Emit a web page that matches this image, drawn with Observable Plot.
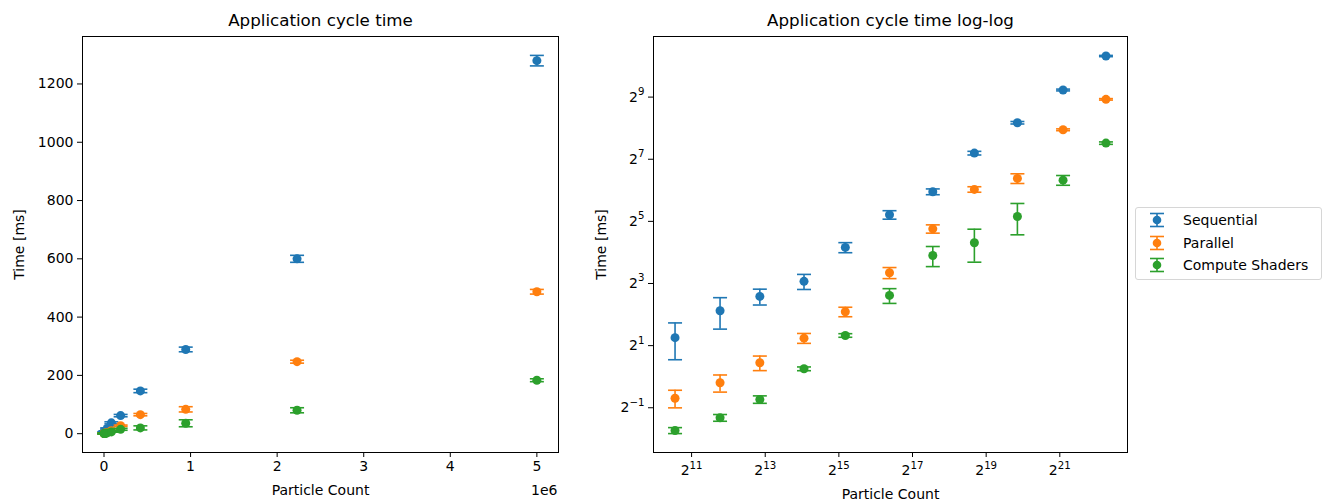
<!DOCTYPE html>
<html><head><meta charset="utf-8">
<script src="https://cdn.jsdelivr.net/npm/d3@7"></script>
<script src="https://cdn.jsdelivr.net/npm/@observablehq/plot@0.6"></script>
<style>
body{margin:0;background:#fff;font-family:"DejaVu Sans",sans-serif;}
#wrap{position:relative;width:1331px;height:502px;overflow:hidden;background:#fff}
.chart{position:absolute;top:0}
#legend{position:absolute;left:1135px;top:207px;width:187px;height:73px;border:1px solid #d6d6d6;border-radius:3px;background:#fff;box-sizing:border-box}
.row{position:absolute;left:0;height:22px;display:flex;align-items:center;font-size:14px;color:#000;white-space:nowrap}
.row svg{margin-left:13px;margin-right:18px}
</style>
</head><body><div id="wrap"></div>
<script>
// ---- data ----
const series = ["Sequential", "Parallel", "Compute Shaders"];
const colors = ["#1f77b4", "#ff7f0e", "#2ca02c"];
const counts = [1500, 3500, 7400, 17000, 37000, 85000, 192000, 420000, 944000, 2230000, 5000000];
const seqMean = [2.39, 4.36, 6.0, 8.4, 17.9, 37.1, 62.0, 146.7, 289, 600, 1280];
const seqErr  = [0.93, 1.47, 1.05, 1.4, 2.0, 3.5, 4, 6, 8, 12, 18];
const parMean = [0.619, 0.874, 1.365, 2.364, 4.26, 10.17, 27.1, 65.3, 83.5, 247, 487];
const parErr  = [0.12, 0.165, 0.22, 0.26, 0.45, 1.25, 2.5, 4, 9, 5, 8];
const gpuMean = [0.301, 0.400, 0.602, 1.193, 2.51, 6.13, 14.96, 19.87, 35.7, 80.3, 183.4];
const gpuErr  = [0.02, 0.03, 0.05, 0.05, 0.1, 1.0, 3.3, 7, 12, 8.7, 5];
const leftXTicks = [0, 1, 2, 3, 4, 5];          // ×1e6
const leftYTicks = [0, 200, 400, 600, 800, 1000, 1200];
const logXExps = [11, 13, 15, 17, 19, 21];
const logYExps = [-1, 1, 3, 5, 7, 9];

const rowsFor = (mean, err, name) => counts.map((c, i) => ({c, m: mean[i], lo: mean[i] - err[i], hi: mean[i] + err[i], s: name}));
const groups = [rowsFor(seqMean, seqErr, series[0]), rowsFor(parMean, parErr, series[1]), rowsFor(gpuMean, gpuErr, series[2])];
const flat = groups.flat();

const hline = {draw(ctx, size) { const r = Math.sqrt(size / Math.PI); ctx.moveTo(-r, 0); ctx.lineTo(r, 0); }};
const seriesMarks = (rows, color) => [
  Plot.ruleX(rows, {x: "c", y1: "lo", y2: "hi", stroke: color, strokeWidth: 1.6}),
  Plot.dot(rows, {x: "c", y: "lo", symbol: hline, r: 7, stroke: color, strokeWidth: 1.6}),
  Plot.dot(rows, {x: "c", y: "hi", symbol: hline, r: 7, stroke: color, strokeWidth: 1.6}),
  Plot.dot(rows, {x: "c", y: "m", r: 4.5, fill: color})
];
const pad = (a, b) => [a - (b - a) * 0.05, b + (b - a) * 0.05];
const xmin = d3.min(counts), xmax = d3.max(counts);
const ymin = d3.min(flat, d => d.lo), ymax = d3.max(flat, d => d.hi);
const style = {fontFamily: "DejaVu Sans", fontSize: "14px", color: "black", background: "transparent", overflow: "visible"};
const expFmt = d => { const e = Math.round(Math.log2(d)); return "2^" + (e < 0 ? "\u2212" + (-e) : e); };

const left = Plot.plot({
  width: 600, height: 502, marginLeft: 82, marginRight: 42, marginTop: 36, marginBottom: 50,
  x: {domain: pad(xmin, xmax)},
  y: {domain: pad(ymin, ymax)},
  style,
  marks: [
    Plot.axisX({ticks: leftXTicks.map(v => v * 1e6), tickFormat: d => String(Math.round(d / 1e6)), tickSize: 5, tickPadding: 4, label: null}),
    Plot.axisY({ticks: leftYTicks, tickFormat: d => String(d), tickSize: 5, tickPadding: 4, label: null}),
    Plot.frame({stroke: "black"}),
    ...groups.flatMap((g, i) => seriesMarks(g, colors[i])),
    Plot.text(["Application cycle time"], {frameAnchor: "top", dy: -16, lineAnchor: "middle", textAnchor: "middle", fontSize: 16.7}),
    Plot.text(["Time [ms]"], {frameAnchor: "left", dx: -63, rotate: -90, lineAnchor: "middle", textAnchor: "middle", fontSize: 14}),
    Plot.text(["Particle Count"], {frameAnchor: "bottom", dy: 38, lineAnchor: "middle", textAnchor: "middle", fontSize: 14}),
    Plot.text(["1e6"], {frameAnchor: "bottom-right", dy: 38, dx: -1, lineAnchor: "middle", textAnchor: "end", fontSize: 14})
  ]
});

const lx = pad(Math.log2(xmin), Math.log2(xmax)).map(v => 2 ** v);
const ly = pad(Math.log2(ymin), Math.log2(ymax)).map(v => 2 ** v);
const right = Plot.plot({
  width: 560, height: 502, marginLeft: 73, marginRight: 13, marginTop: 36, marginBottom: 50,
  x: {type: "log", base: 2, domain: lx},
  y: {type: "log", base: 2, domain: ly},
  style,
  marks: [
    Plot.axisX({ticks: logXExps.map(e => 2 ** e), tickFormat: expFmt, tickSize: 5, tickPadding: 8, label: null}),
    Plot.axisY({ticks: logYExps.map(e => 2 ** e), tickFormat: expFmt, tickSize: 5, tickPadding: 4, label: null}),
    Plot.frame({stroke: "black"}),
    ...groups.flatMap((g, i) => seriesMarks(g, colors[i])),
    Plot.text(["Application cycle time log-log"], {frameAnchor: "top", dy: -16, lineAnchor: "middle", textAnchor: "middle", fontSize: 16.7}),
    Plot.text(["Time [ms]"], {frameAnchor: "left", dx: -52, rotate: -90, lineAnchor: "middle", textAnchor: "middle", fontSize: 14}),
    Plot.text(["Particle Count"], {frameAnchor: "bottom", dy: 42, lineAnchor: "middle", textAnchor: "middle", fontSize: 14})
  ]
});

// render exponent labels as superscripts
const NS = "http://www.w3.org/2000/svg";
right.querySelectorAll("text").forEach(t => {
  const m = /^2\^(.+)$/.exec(t.textContent);
  if (!m) return;
  t.textContent = "";
  const a = document.createElementNS(NS, "tspan"); a.textContent = "2";
  const b = document.createElementNS(NS, "tspan"); b.textContent = m[1];
  b.setAttribute("dy", "-6.5"); b.setAttribute("font-size", "10.2");
  t.appendChild(a); t.appendChild(b);
});

const wrap = document.getElementById("wrap");
left.classList.add("chart"); left.style.left = "0px";
right.classList.add("chart"); right.style.left = "580px";
wrap.appendChild(left); wrap.appendChild(right);

// legend
const legend = document.createElement("div"); legend.id = "legend";
series.forEach((name, i) => {
  const row = document.createElement("div"); row.className = "row"; row.style.top = (1 + i * 22.7) + "px";
  const c = colors[i];
  row.innerHTML = `<svg width="16" height="16" viewBox="-8 -8 16 16"><line x1="0" y1="-6.5" x2="0" y2="6.5" stroke="${c}" stroke-width="1.6"/><line x1="-7" y1="-6.5" x2="7" y2="-6.5" stroke="${c}" stroke-width="1.6"/><line x1="-7" y1="6.5" x2="7" y2="6.5" stroke="${c}" stroke-width="1.6"/><circle r="4.3" fill="${c}"/></svg><span>${name}</span>`;
  legend.appendChild(row);
});
wrap.appendChild(legend);
</script></body></html>
